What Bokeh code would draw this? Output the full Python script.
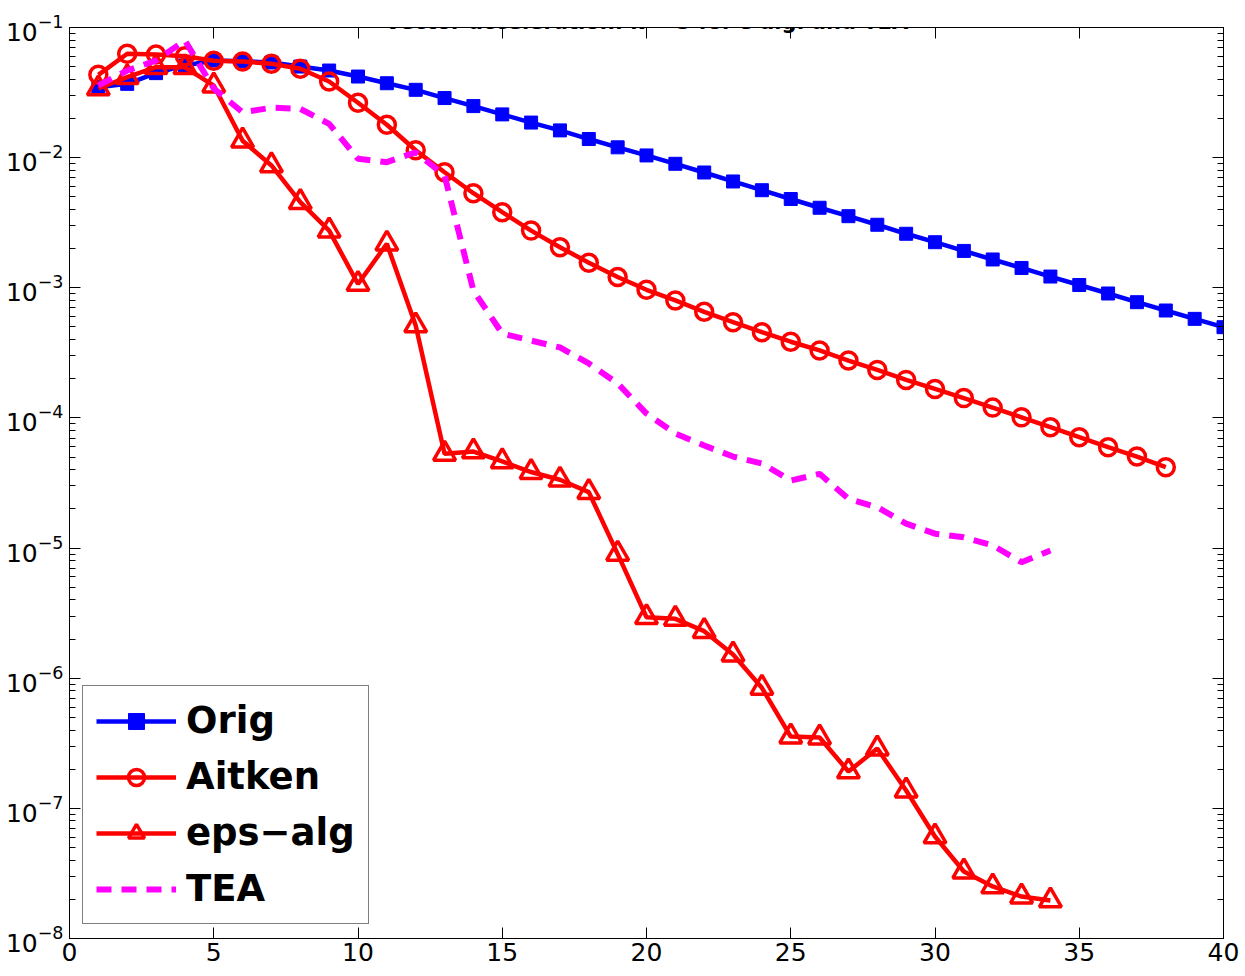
from bokeh.plotting import figure
from bokeh.models import (LogAxis, LinearAxis, FixedTicker, Legend, LegendItem,
                          Label, Range1d, LogTickFormatter)
from bokeh.embed import file_html
from bokeh.resources import INLINE

# ---------------- data ----------------
title_text = "Vector acceleration: k = 3 for ε-alg. and TEA"

iter_orig = list(range(1, 41))
orig = [0.0348, 0.0369, 0.0446, 0.0511, 0.0558, 0.0551, 0.0538, 0.0501, 0.0467, 0.0420,
        0.0373, 0.0332, 0.0287, 0.0249, 0.0215, 0.0186, 0.0162, 0.0139, 0.0120, 0.0104,
        0.00897, 0.00769, 0.00656, 0.00562, 0.00481, 0.00412, 0.00355, 0.00305, 0.00260, 0.00224,
        0.00192, 0.00165, 0.00142, 0.00122, 0.00105, 0.000904, 0.000775, 0.000669, 0.000577, 0.000498]

iter_aitken = list(range(1, 39))
aitken = [0.0433, 0.0628, 0.0620, 0.0602, 0.0555, 0.0548, 0.0526, 0.0482, 0.0385, 0.0264,
          0.0179, 0.0114, 0.00773, 0.00533, 0.00381, 0.00275, 0.00205, 0.00156, 0.00121, 0.000965,
          0.000799, 0.000654, 0.000544, 0.000456, 0.000385, 0.000330, 0.000276, 0.000234, 0.000196, 0.000167,
          0.000142, 0.000120, 0.000101, 8.49e-5, 7.11e-5, 5.96e-5, 5.05e-5, 4.18e-5]

iter_eps = list(range(1, 35))
eps_alg = [0.0340, 0.0415, 0.0495, 0.0495, 0.0358, 0.0135, 0.00871, 0.00455, 0.00275, 0.00107,
           0.00218, 0.000513, 5.30e-5, 5.52e-5, 4.63e-5, 3.84e-5, 3.35e-5, 2.69e-5, 9.03e-6, 2.94e-6,
           2.86e-6, 2.30e-6, 1.52e-6, 8.44e-7, 3.56e-7, 3.50e-7, 1.92e-7, 2.88e-7, 1.37e-7, 6.08e-8,
           3.27e-8, 2.51e-8, 2.10e-8, 1.96e-8]

iter_tea = list(range(1, 35))
tea = [0.0358, 0.0467, 0.0558, 0.0795, 0.0340, 0.0223, 0.0242, 0.0237, 0.0182, 0.00980,
       0.00923, 0.0110, 0.00729, 0.000953, 0.000445, 0.000393, 0.000348, 0.000262, 0.000184, 0.000108,
       7.59e-5, 6.14e-5, 5.05e-5, 4.47e-5, 3.30e-5, 3.72e-5, 2.39e-5, 2.06e-5, 1.54e-5, 1.29e-5,
       1.21e-5, 1.05e-5, 7.79e-6, 9.58e-6]

x_ticks = [0, 5, 10, 15, 20, 25, 30, 35, 40]
y_ticks = [1e-8, 1e-7, 1e-6, 1e-5, 1e-4, 1e-3, 1e-2, 1e-1]
y_minor = [m * t for t in y_ticks[:-1] for m in range(2, 10)]

BLUE = "#0000ff"
RED = "#ff0000"
MAGENTA = "#ff00ff"
FONT = "DejaVu Sans"

p = figure(frame_width=1154, frame_height=911, y_axis_type="log",
           x_range=Range1d(0, 40), y_range=Range1d(1e-8, 1e-1),
           output_backend="svg", toolbar_location=None,
           min_border_left=69, min_border_right=22, min_border_top=27, min_border_bottom=38,
           background_fill_color="white", border_fill_color="white")
p.xgrid.visible = False
p.ygrid.visible = False
p.outline_line_color = "black"
p.outline_line_width = 1

xt = FixedTicker(ticks=x_ticks)
yt = FixedTicker(ticks=y_ticks, minor_ticks=y_minor)


def style_axis(ax, labels=True):
    ax.axis_line_color = "black"
    ax.axis_line_width = 1
    ax.major_tick_in = 11
    ax.major_tick_out = 0
    ax.minor_tick_in = 6
    ax.minor_tick_out = 0
    ax.major_tick_line_color = "black"
    ax.minor_tick_line_color = "black"
    ax.major_label_text_font = FONT
    ax.major_label_text_font_size = "25px"
    ax.major_label_text_color = "black"
    if not labels:
        ax.major_label_text_font_size = "0px"
        ax.major_label_text_alpha = 0


xa = p.xaxis[0]
xa.ticker = xt
style_axis(xa)
xa.minor_tick_in = 0
xa.major_label_standoff = 4

ya = p.yaxis[0]
ya.ticker = yt
ya.formatter = LogTickFormatter()
style_axis(ya)
ya.major_label_standoff = 6

top = LinearAxis(ticker=xt)
style_axis(top, labels=False)
top.minor_tick_in = 0
top.major_label_overrides = {t: "" for t in x_ticks}
p.add_layout(top, "above")

right = LogAxis(ticker=yt)
style_axis(right, labels=False)
right.major_label_overrides = {t: "" for t in y_ticks}
p.add_layout(right, "right")

# ---------------- series ----------------
l1 = p.line(iter_orig, orig, line_color=BLUE, line_width=4.5)
s1 = p.scatter(iter_orig, orig, marker="square", size=13, fill_color=BLUE, line_color=BLUE)

l2 = p.line(iter_aitken, aitken, line_color=RED, line_width=4.5)
s2 = p.scatter(iter_aitken, aitken, marker="circle", size=17, fill_color=None,
               line_color=RED, line_width=3.5)

l3 = p.line(iter_eps, eps_alg, line_color=RED, line_width=4.5)
s3 = p.scatter(iter_eps, eps_alg, marker="triangle", size=22, fill_color=None,
               line_color=RED, line_width=3.5)

l4 = p.line(iter_tea, tea, line_color=MAGENTA, line_width=6, line_dash="15 10")

legend = Legend(items=[
    LegendItem(label="Orig", renderers=[l1, s1]),
    LegendItem(label="Aitken", renderers=[l2, s2]),
    LegendItem(label="eps−alg", renderers=[l3, s3]),
    LegendItem(label="TEA", renderers=[l4]),
], location=(13, 14))
legend.label_text_font = FONT
legend.label_text_font_style = "bold"
legend.label_text_font_size = "37px"
legend.label_text_color = "black"
legend.glyph_width = 80
legend.glyph_height = 40
legend.label_standoff = 10
legend.spacing = 13
legend.padding = 13
legend.margin = 0
legend.border_line_color = "black"
legend.border_line_width = 1
legend.background_fill_color = "white"
legend.background_fill_alpha = 1
p.add_layout(legend)

title = Label(x=20, y=0.1093, x_units="data", y_units="data", text=title_text,
              text_align="center", text_baseline="alphabetic",
              text_font=FONT, text_font_style="bold", text_font_size="21px",
              text_color="black")
p.add_layout(title)

open("out.html", "w").write(file_html(p, INLINE))
